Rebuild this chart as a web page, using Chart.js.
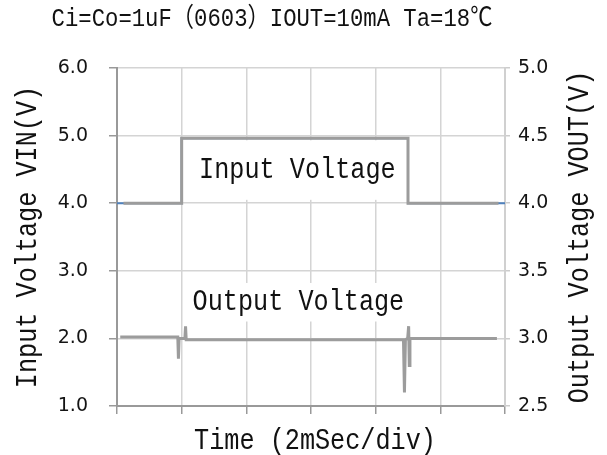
<!DOCTYPE html>
<html>
<head>
<meta charset="utf-8">
<script src="https://cdn.jsdelivr.net/npm/chart.js@4/dist/chart.umd.min.js"></script>
<style>
  html, body { margin: 0; padding: 0; background: #fff; }
  #wrap { width: 607px; height: 455px; }
</style>
</head>
<body>
<div id="wrap"><canvas id="c"></canvas></div>
<script>
// time axis in ms (2 ms per division, 6 divisions)
const inTime  = [0, 2.0, 2.0, 9.0, 9.0, 12];
const inVolt  = [4.0, 4.0, 4.96, 4.96, 4.0, 4.0];
const inTraceTime = [0.2, 2.0, 2.0, 9.0, 9.0, 11.8];

const outTime = [0.1, 1.88, 1.90, 1.92, 2.10, 2.12, 2.14, 5.5, 8.86, 8.89, 8.92, 8.99, 9.02, 9.04, 9.06, 11.75];
const outVolt = [3.01, 3.01, 2.85, 3.0, 3.0, 3.09, 2.99, 2.99, 2.99, 2.60, 2.99, 3.0, 3.09, 2.80, 3.0, 3.0];

const leftTicks  = [1.0, 2.0, 3.0, 4.0, 5.0, 6.0];
const rightTicks = [2.5, 3.0, 3.5, 4.0, 4.5, 5.0];

const titleText  = 'Ci=Co=1uF（0603）IOUT=10mA Ta=18℃';
const xTitle     = 'Time (2mSec/div)';
const leftTitle  = 'Input Voltage VIN(V)';
const rightTitle = 'Output Voltage VOUT(V)';
const inLabel    = 'Input Voltage';
const outLabel   = 'Output Voltage';

function pts(xs, ys) { return xs.map((x, i) => ({ x: x, y: ys[i] })); }

function monoText(ctx, text, x, y, size, rot) {
    ctx.save();
    ctx.translate(x, y);
    ctx.rotate(rot || 0);
    ctx.scale(0.84, 1);
    ctx.font = size + 'px "Liberation Mono", "Noto Sans CJK SC", monospace';
    ctx.fillStyle = '#111';
    ctx.textAlign = 'center';
    ctx.textBaseline = 'middle';
    ctx.fillText(text, 0, 0);
    ctx.restore();
}

// white boxes behind the two in-plot labels (they hide the grid)
const labelBoxes = {
    id: 'labelBoxes',
    beforeDatasetsDraw(chart) {
        const { ctx, scales: { x, y } } = chart;
        ctx.save();
        ctx.fillStyle = '#fff';
        ctx.fillRect(x.getPixelForValue(2.1), y.getPixelForValue(4.93),
            x.getPixelForValue(8.9) - x.getPixelForValue(2.1),
            y.getPixelForValue(4.05) - y.getPixelForValue(4.93));
        ctx.fillRect(x.getPixelForValue(2.3), y.getPixelForValue(2.82),
            x.getPixelForValue(9.1) - x.getPixelForValue(2.3),
            y.getPixelForValue(2.25) - y.getPixelForValue(2.82));
        ctx.restore();
    },
    afterDraw(chart) {
        const { ctx, scales: { x, y, y2 } } = chart;
        monoText(ctx, titleText, 272, 19, 26.5, 0);
        monoText(ctx, xTitle, (x.left + x.right) / 2 + 4, 441, 30, 0);
        monoText(ctx, leftTitle, 28, (y.top + y.bottom) / 2, 30, -Math.PI / 2);
        monoText(ctx, rightTitle, 580, (y2.top + y2.bottom) / 2, 30, -Math.PI / 2);
        monoText(ctx, inLabel, x.getPixelForValue(5.58), y.getPixelForValue(4.49), 30, 0);
        monoText(ctx, outLabel, x.getPixelForValue(5.61), y.getPixelForValue(2.54), 30, 0);
    }
};

const tickFont = { family: '"DejaVu Sans", Verdana, sans-serif', size: 19 };

new Chart(document.getElementById('c'), {
    type: 'line',
    data: {
        datasets: [{
            label: 'Input Voltage',
            data: pts(inTraceTime, inVolt),
            yAxisID: 'y',
            borderColor: '#9c9c9c',
            borderWidth: 3,
            pointRadius: 0,
            tension: 0
        }, {
            label: 'Output Voltage',
            data: pts(outTime, outVolt),
            yAxisID: 'y2',
            borderColor: '#9c9c9c',
            borderWidth: 3,
            pointRadius: 0,
            tension: 0
        }, {
            label: 'VIN',
            data: pts(inTime, inVolt),
            yAxisID: 'y',
            borderColor: '#4f81bd',
            borderWidth: 2,
            pointRadius: 0,
            tension: 0
        }]
    },
    options: {
        responsive: true,
        maintainAspectRatio: false,
        animation: false,
        layout: { padding: { top: 68, left: 0, right: 0, bottom: 0 } },
        plugins: { legend: { display: false }, tooltip: { enabled: false } },
        scales: {
            x: {
                type: 'linear',
                min: 0, max: 12,
                ticks: { stepSize: 2, callback: () => '', font: tickFont },
                grid: { color: '#d4d4d4', lineWidth: 1.5, tickLength: 8, tickColor: '#999' },
                border: { color: '#999', width: 2 },
                afterFit: s => { s.height = 49; }
            },
            y: {
                position: 'left',
                min: 1, max: 6,
                afterBuildTicks: s => { s.ticks = leftTicks.map(v => ({ value: v })); },
                ticks: { font: tickFont, color: '#141414', padding: 21,
                    callback: v => Number(v).toFixed(1) },
                grid: { color: '#d4d4d4', lineWidth: 1.5, tickLength: 8, tickColor: '#999' },
                border: { color: '#999', width: 2 },
                afterFit: s => { s.width = 117; }
            },
            y2: {
                position: 'right',
                min: 2.5, max: 5.0,
                afterBuildTicks: s => { s.ticks = rightTicks.map(v => ({ value: v })); },
                ticks: { font: tickFont, color: '#141414', padding: 8,
                    callback: v => Number(v).toFixed(1) },
                grid: { drawOnChartArea: false, tickLength: 5, tickColor: '#ccc', lineWidth: 1.5 },
                border: { color: '#d0d0d0', width: 2 },
                afterFit: s => { s.width = 102; }
            }
        }
    },
    plugins: [labelBoxes]
});
</script>
</body>
</html>
